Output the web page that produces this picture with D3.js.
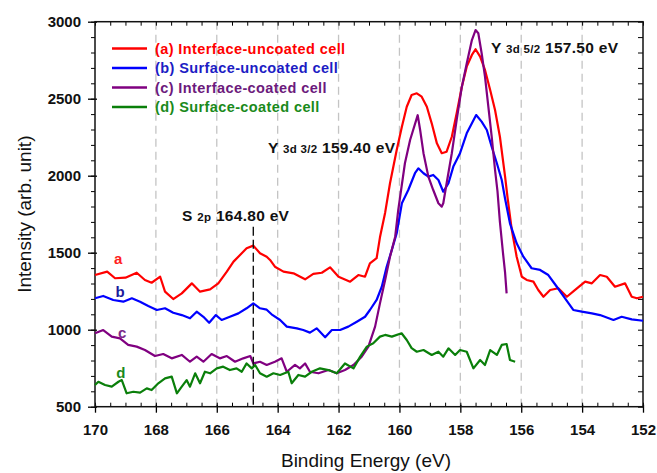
<!DOCTYPE html>
<html>
<head>
<meta charset="utf-8">
<script src="https://cdn.jsdelivr.net/npm/d3@7"></script>
<style>
  html, body { margin: 0; padding: 0; background: #fff; }
  svg { display: block; font-family: "Liberation Sans", Arial, sans-serif; }
</style>
</head>
<body>
<svg id="chart" width="657" height="473"></svg>
<script>
// XPS spectra: binding energy (eV) vs intensity (arb. unit)
const seriesKeys = ["a", "b", "c", "d"];
const seriesNames = [
  "(a) Interface-uncoated cell",
  "(b) Surface-uncoated cell",
  "(c) Interface-coated cell",
  "(d) Surface-coated cell"
];

const interfaceUncoated = [
  [170.0,1355],[169.6,1377],[169.34,1334],[169.0,1338],[168.63,1370],[168.36,1323],[168.14,1305],
  [167.86,1344],[167.7,1247],[167.43,1199],[167.15,1236],[166.82,1301],[166.55,1247],[166.22,1262],
  [165.95,1301],[165.67,1377],[165.45,1442],[165.18,1496],[165.02,1529],[164.8,1546],[164.58,1496],
  [164.36,1474],[164.25,1453],[164.09,1409],[163.81,1377],[163.48,1366],[163.1,1327],[162.83,1362],
  [162.55,1370],[162.28,1405],[162.0,1344],[161.62,1312],[161.35,1355],[161.13,1344],[160.97,1431],
  [160.75,1464],[160.64,1600],[160.47,1760],[160.31,1951],[160.09,2167],[159.92,2318],[159.76,2448],
  [159.6,2524],[159.43,2535],[159.27,2513],[159.1,2448],[158.94,2340],[158.77,2210],[158.61,2146],
  [158.45,2156],[158.28,2253],[158.12,2405],[157.95,2578],[157.79,2708],[157.62,2784],[157.5,2821],
  [157.35,2773],[157.19,2687],[157.02,2557],[156.86,2427],[156.7,2253],[156.53,1994],[156.45,1860],
  [156.31,1648],[156.15,1474],[155.98,1344],[155.82,1323],[155.6,1312],[155.44,1258],[155.27,1214],
  [155.05,1258],[154.78,1269],[154.5,1214],[154.23,1258],[153.9,1312],[153.68,1301],[153.41,1355],
  [153.19,1344],[152.92,1279],[152.59,1301],[152.37,1214],[152.2,1204],[152.0,1214]
];

const surfaceUncoated = [
  [170.0,1204],[169.73,1219],[169.4,1193],[169.07,1182],[168.79,1204],[168.52,1182],[168.25,1154],
  [167.97,1128],[167.7,1139],[167.43,1110],[167.15,1095],[166.88,1074],[166.66,1117],[166.44,1084],
  [166.25,1045],[166.03,1095],[165.84,1063],[165.57,1084],[165.29,1106],[165.02,1139],[164.8,1171],
  [164.58,1139],[164.36,1130],[164.2,1100],[163.92,1063],[163.7,1020],[163.37,1009],[163.16,998],
  [162.94,981],[162.72,1009],[162.44,951],[162.22,998],[161.95,998],[161.68,1020],[161.4,1052],
  [161.13,1084],[160.97,1128],[160.75,1193],[160.58,1279],[160.42,1409],[160.25,1518],[160.09,1626],
  [159.92,1821],[159.71,1907],[159.49,2016],[159.38,2048],[159.21,2016],[159.05,1994],[158.89,2005],
  [158.72,1972],[158.56,1896],[158.39,1951],[158.23,2059],[158.01,2146],[157.79,2275],[157.62,2340],
  [157.48,2394],[157.3,2351],[157.13,2297],[156.97,2188],[156.8,2081],[156.64,1972],[156.53,1850],
  [156.37,1691],[156.15,1561],[155.93,1474],[155.66,1399],[155.38,1388],[155.11,1355],[154.83,1279],
  [154.56,1204],[154.29,1128],[154.01,1117],[153.68,1106],[153.41,1095],[152.97,1063],[152.7,1084],
  [152.37,1067],[152.0,1058]
];

const interfaceCoated = [
  [170.0,977],[169.73,998],[169.45,955],[169.18,944],[168.91,901],[168.63,890],[168.36,868],
  [168.03,829],[167.76,842],[167.48,814],[167.15,836],[166.88,792],[166.66,825],[166.44,792],
  [166.17,842],[165.9,814],[165.67,829],[165.4,792],[165.13,814],[164.9,829],[164.8,781],
  [164.58,792],[164.36,771],[164.09,792],[163.87,814],[163.7,727],[163.43,771],[163.27,749],
  [163.1,781],[162.94,727],[162.66,717],[162.33,738],[162.06,717],[161.79,738],[161.51,771],
  [161.24,825],[161.02,890],[160.8,1020],[160.64,1171],[160.47,1323],[160.31,1474],[160.14,1604],
  [160.04,1777],[159.82,2081],[159.65,2232],[159.4,2393],[159.32,2297],[159.21,2146],[159.05,1994],
  [158.89,1907],[158.72,1821],[158.61,1799],[158.56,1821],[158.45,1951],[158.28,2146],[158.12,2362],
  [157.95,2578],[157.79,2729],[157.62,2881],[157.5,2946],[157.41,2925],[157.3,2795],[157.19,2643],
  [157.08,2448],[156.97,2253],[156.86,2037],[156.78,1900],[156.7,1700],[156.6,1500],[156.53,1370],
  [156.48,1236]
];

const surfaceCoated = [
  [170.0,641],[169.89,662],[169.67,641],[169.45,630],[169.23,662],[169.12,673],[168.96,587],
  [168.74,597],[168.52,591],[168.3,619],[168.14,608],[167.92,652],[167.7,684],[167.48,695],
  [167.31,587],[167.15,630],[166.99,673],[166.88,630],[166.71,717],[166.55,652],[166.39,727],
  [166.22,717],[166.0,749],[165.79,760],[165.57,738],[165.35,749],[165.18,727],[165.02,781],
  [164.85,749],[164.74,771],[164.58,717],[164.36,695],[164.14,717],[163.92,706],[163.65,727],
  [163.54,652],[163.32,706],[163.1,695],[162.88,727],[162.61,749],[162.33,738],[162.06,717],
  [161.79,781],[161.51,749],[161.29,825],[161.07,890],[160.86,912],[160.64,955],[160.47,966],
  [160.25,955],[159.93,977],[159.76,933],[159.6,880],[159.43,857],[159.21,868],[158.94,836],
  [158.72,857],[158.56,825],[158.39,879],[158.17,836],[158.01,868],[157.79,857],[157.57,749],
  [157.35,803],[157.19,771],[157.02,868],[156.8,836],[156.64,901],[156.48,907],[156.37,803],
  [156.2,792]
];

const seriesValues = [interfaceUncoated, surfaceUncoated, interfaceCoated, surfaceCoated];

// Curve tags a-d, placed in data coordinates (energy, intensity at baseline)
const tagEnergies = [169.24, 169.18, 169.11, 169.15];
const tagIntensities = [1427, 1212, 946, 686];

// Peak annotations
const peakEnergies = [164.80, 159.40, 157.50];
const peakMain = ["S", "Y", "Y"];
const peakOrbital = ["2p", "3d 3/2", "3d 5/2"];

const xTickValues = [170, 168, 166, 164, 162, 160, 158, 156, 154, 152];
const yTickValues = [500, 1000, 1500, 2000, 2500, 3000];
const xDomain = [170, 152];
const yDomain = [500, 3000];

// Styling
const lineColors = ["#ff0000", "#0000ff", "#800080", "#0a7f0a"];
const textColors = ["#ff0000", "#1c1cc4", "#6c1a7c", "#1a8a1a"];
const tagColors = ["#ff2020", "#1c1c9c", "#7a2a8a", "#1a8a1a"];

const svg = d3.select("#chart");
const W = 657, H = 473;
const m = { left: 95, right: 14, top: 21.7, bottom: 66.3 };
const iw = W - m.left - m.right, ih = H - m.top - m.bottom;

const x = d3.scaleLinear().domain(xDomain).range([m.left, m.left + iw]);
const y = d3.scaleLinear().domain(yDomain).range([m.top + ih, m.top]);

// Vertical dashed grid at the even energies
svg.append("g")
  .selectAll("line")
  .data(xTickValues.slice(1, -1))
  .join("line")
  .attr("x1", d => x(d)).attr("x2", d => x(d))
  .attr("y1", m.top).attr("y2", m.top + ih)
  .attr("stroke", "#c4c4c4").attr("stroke-width", 1.3)
  .attr("stroke-dasharray", "8,5");

// Minor ticks
const xMinor = d3.range(152, 170.01, 0.5);
const yMinor = d3.range(500, 3000.1, 100);

svg.append("g").attr("transform", `translate(0,${m.top + ih})`)
  .call(d3.axisBottom(x).tickValues(xMinor).tickSize(-4).tickFormat(""))
  .call(g => g.select(".domain").remove());
svg.append("g").attr("transform", `translate(0,${m.top})`)
  .call(d3.axisTop(x).tickValues(xMinor).tickSize(-4).tickFormat(""))
  .call(g => g.select(".domain").remove());
svg.append("g").attr("transform", `translate(${m.left},0)`)
  .call(d3.axisLeft(y).tickValues(yMinor).tickSize(4).tickFormat(""))
  .call(g => g.select(".domain").remove());
svg.append("g").attr("transform", `translate(${m.left + iw},0)`)
  .call(d3.axisRight(y).tickValues(yMinor).tickSize(-5).tickFormat(""))
  .call(g => g.select(".domain").remove());

// Major axes with labels
const xAxis = svg.append("g").attr("transform", `translate(0,${m.top + ih})`)
  .call(d3.axisBottom(x).tickValues(xTickValues).tickSize(6).tickPadding(12).tickFormat(d3.format("d")));
const yAxis = svg.append("g").attr("transform", `translate(${m.left},0)`)
  .call(d3.axisLeft(y).tickValues(yTickValues).tickSize(7).tickPadding(7).tickFormat(d3.format("d")));
[xAxis, yAxis].forEach(g => {
  g.select(".domain").remove();
  g.selectAll(".tick line").attr("stroke", "#000").attr("stroke-width", 1.3);
  g.selectAll(".tick text").attr("fill", "#111").attr("font-size", 15).attr("font-weight", "bold")
    .attr("font-family", "'Liberation Sans', Arial, sans-serif");
});
xAxis.selectAll(".tick line").attr("y1", -2);
yAxis.selectAll(".tick line").attr("x1", 2);

// Plot frame
svg.append("rect")
  .attr("x", m.left).attr("y", m.top).attr("width", iw).attr("height", ih)
  .attr("fill", "none").attr("stroke", "#111").attr("stroke-width", 1.5);

// Spectra
const line = d3.line().x(d => x(d[0])).y(d => y(d[1]));
svg.append("g")
  .selectAll("path")
  .data(seriesValues)
  .join("path")
  .attr("d", line)
  .attr("fill", "none")
  .attr("stroke", (d, i) => lineColors[i])
  .attr("stroke-width", 2.2)
  .attr("stroke-linejoin", "round");

// Curve tags a-d next to each trace's start
svg.append("g")
  .selectAll("text")
  .data(seriesKeys)
  .join("text")
  .attr("x", (d, i) => x(tagEnergies[i]))
  .attr("y", (d, i) => y(tagIntensities[i]))
  .attr("text-anchor", "middle")
  .attr("font-size", 15).attr("font-weight", "bold")
  .attr("fill", (d, i) => tagColors[i])
  .text(d => d);

// S 2p marker line
svg.append("line")
  .attr("x1", x(peakEnergies[0])).attr("x2", x(peakEnergies[0]))
  .attr("y1", m.top + 205).attr("y2", m.top + ih)
  .attr("stroke", "#111").attr("stroke-width", 1.4)
  .attr("stroke-dasharray", "9,4");

// Peak labels
const peakLabelPos = [[182, 221], [268, 153], [491, 53]];
peakEnergies.forEach((e, i) => {
  const t = svg.append("text")
    .attr("x", peakLabelPos[i][0]).attr("y", peakLabelPos[i][1])
    .attr("font-weight", "bold").attr("fill", "#111")
    .attr("letter-spacing", 0.3);
  t.append("tspan").attr("font-size", 15.5).text(peakMain[i] + " ");
  t.append("tspan").attr("font-size", 11.5).text(peakOrbital[i]);
  t.append("tspan").attr("font-size", 15.5).text(" " + e.toFixed(2) + " eV");
});

// Legend
const legend = svg.append("g").attr("transform", "translate(112,48.5)");
const row = legend.selectAll("g").data(seriesNames).join("g")
  .attr("transform", (d, i) => `translate(0,${i * 19.5})`);
row.append("line").attr("x1", 0).attr("x2", 35).attr("y1", 0).attr("y2", 0)
  .attr("stroke", (d, i) => lineColors[i]).attr("stroke-width", 2.5);
row.append("text").attr("x", 43).attr("y", 5)
  .attr("font-size", 14.5).attr("font-weight", "bold")
  .attr("letter-spacing", 0.4)
  .attr("fill", (d, i) => textColors[i])
  .text(d => d);

// Axis titles
svg.append("text")
  .attr("x", m.left + iw / 2 - 3).attr("y", 467)
  .attr("text-anchor", "middle").attr("font-size", 19).attr("fill", "#111")
  .text("Binding Energy (eV)");
svg.append("text")
  .attr("transform", `translate(31,${m.top + ih / 2}) rotate(-90)`)
  .attr("text-anchor", "middle").attr("font-size", 19).attr("fill", "#111")
  .text("Intensity (arb. unit)");
</script>
</body>
</html>
